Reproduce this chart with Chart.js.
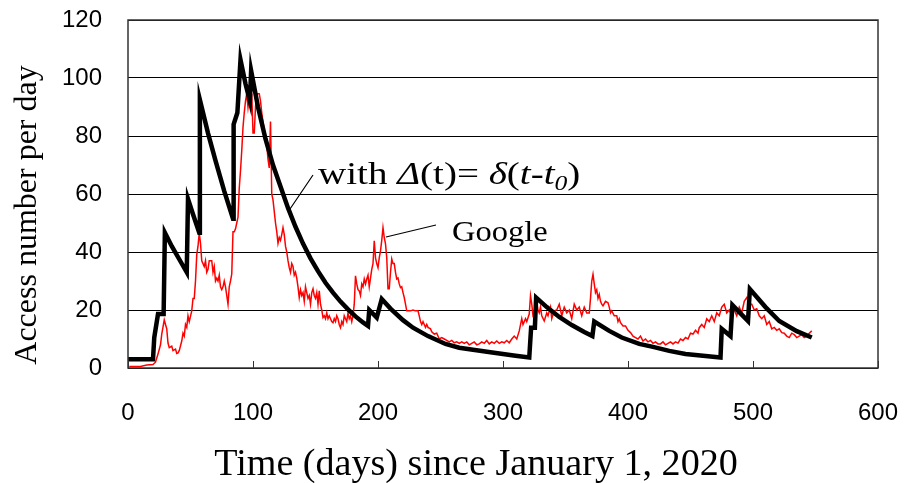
<!DOCTYPE html>
<html lang="en">
<head>
    <meta charset="UTF-8">
    <title>Access number per day</title>
    <script src="https://cdn.jsdelivr.net/npm/chart.js"></script>
    <style>
        html, body { margin: 0; padding: 0; background: #fff; }
        #wrap { width: 904px; height: 483px; }
    </style>
</head>
<body>
    <div id="wrap">
        <canvas id="accessChart" width="904" height="483"></canvas>
    </div>

    <script>
        // --- data ---

        // x ticks / y ticks
        const xTicks = [0, 100, 200, 300, 400, 500, 600];
        const yTicks = [0, 20, 40, 60, 80, 100, 120];

        // model curve: with Delta(t) = delta(t - t0)
        const modelDay = [0, 20, 21, 24, 28.5, 29.5, 35, 41, 47, 48, 52, 57, 57.5, 64, 70, 77, 84, 84.5, 87.5, 90,
            94, 97.5, 98.5, 104, 110, 116, 122, 128, 134, 140, 146, 152, 158, 164, 170, 176, 182, 188, 192,
            193, 199, 203, 210, 220, 228, 240, 254, 265, 276, 290, 300, 310, 321, 322.5, 325.5, 326.5, 335,
            345, 355, 365, 371.5, 373, 385, 395, 409, 420, 433, 446, 460, 474, 475, 482, 483.5, 496, 497.5,
            510, 521, 535, 547];
        const modelCount = [3, 3, 10.5, 18.6, 18.6, 46.7, 42, 37.5, 33, 58.3, 53, 46.6, 92.5, 81, 71.5, 61, 51.5, 84, 88, 106.3,
            98, 92, 102.5, 90, 79, 70, 62.6, 55.2, 48.7, 42.9, 37.8, 33.4, 29.4, 26, 22.9, 20.2, 17.8, 15.7, 14.5,
            20, 17.4, 23.8, 20.5, 16.5, 13.9, 11, 8.3, 7, 6.3, 5.4, 4.8, 4.2, 3.6, 13.9, 13.9, 24.3, 21,
            17.6, 14.8, 12.4, 11, 16, 12.8, 10.5, 8.3, 7.3, 5.9, 4.8, 4.2, 3.6, 13.5, 11, 21.7, 16.2, 27.2,
            21, 16.2, 12.7, 10.5];

        // Google access counts
        const googleDay = [1, 5, 10, 15, 20, 22, 24, 26, 27, 29, 30, 31, 32, 33, 35, 36, 38, 39, 40, 41, 43, 44, 45, 46, 47, 48, 49,
            51, 52, 53, 54, 55, 56, 57, 58, 59, 60, 61, 62, 63, 64, 65, 66, 67, 68, 69, 70, 71, 72, 73, 74, 75, 76, 77, 78, 79,
            80, 81, 82, 83, 84, 85, 86, 87, 88, 89, 90, 91, 92, 93, 94, 95, 96, 97, 98, 99, 100, 101, 102, 103, 104, 105, 106,
            107, 108, 109, 110, 111, 112, 113, 114, 115, 116, 117, 118, 119, 120, 121, 122, 123, 124, 125, 126, 127, 128, 129,
            130, 131, 132, 133, 134, 135, 136, 137, 138, 139, 140, 141, 142, 143, 144, 145, 146, 147, 148, 149, 150, 151, 152,
            153, 154, 155, 156, 157, 158, 159, 160, 161, 162, 163, 164, 165, 166, 167, 168, 169, 170, 171, 172, 173, 174, 175,
            176, 177, 178, 179, 180, 181, 182, 183, 184, 185, 186, 187, 188, 189, 190, 191, 192, 193, 194, 195, 196, 197, 198,
            199, 200, 201, 202, 203, 204, 205, 206, 207, 208, 209, 210, 211, 212, 213, 214, 215, 216, 217, 218, 219, 220, 221,
            222, 223, 224, 226, 228, 230, 232, 233, 234, 235, 236, 237, 238, 239, 240, 242, 243, 245, 247, 249, 251, 253, 255,
            257, 259, 261, 263, 265, 267, 269, 271, 273, 275, 277, 279, 281, 283, 285, 287, 289, 291, 293, 295, 297, 299, 301,
            303, 305, 307, 309, 311, 313, 315, 316, 318, 319, 321, 322, 323, 324, 325, 326, 327, 328, 329, 330, 331, 333, 335,
            336, 338, 339, 341, 343, 345, 347, 349, 351, 353, 355, 357, 359, 361, 363, 365, 367, 369, 370, 371, 372, 373, 374,
            375, 376, 377, 378, 379, 380, 382, 384, 385, 386, 387, 389, 391, 392, 393, 394, 396, 398, 400, 402, 404, 406, 408,
            410, 412, 414, 416, 418, 420, 422, 424, 426, 428, 430, 432, 434, 436, 438, 440, 442, 444, 446, 448, 450, 452, 454,
            456, 457, 459, 461, 463, 465, 467, 469, 471, 473, 475, 477, 479, 481, 483, 485, 487, 489, 491, 493, 495, 497, 499,
            501, 503, 505, 507, 509, 511, 513, 515, 517, 519, 521, 523, 525, 527, 529, 531, 533, 535, 537, 539, 541, 543, 545,
            547];
        const googleCount = [0.5, 0.5, 0.5, 1, 1.2, 2, 4.8, 8, 11.7, 16.6, 15, 13.5, 8.6, 7, 7.5, 6, 6.5, 5, 5.2, 6, 9.3, 12, 11, 15, 14, 18, 16,
            19.7, 24, 24, 30, 39, 42, 46.6, 43, 37, 36, 35, 37, 33, 34, 37, 37, 37, 33, 35, 30, 31, 30, 32, 28, 27, 28, 30, 28, 25,
            22, 28, 30, 32.4, 47, 47, 48, 50, 52, 62, 68, 75, 83, 88, 92, 94.6, 90, 94, 92, 94.6, 81, 81, 90, 94.6, 94.6, 94.6, 92,
            88, 85, 82, 80, 77, 72, 69, 85, 60, 58, 54, 50, 47, 43, 45, 44, 46, 48.4, 46, 42, 40, 37, 34.6,
            33, 36, 35, 32, 33, 31, 28, 24.3, 27, 25, 26, 23, 28, 26, 24, 25, 22, 26, 27.3, 25, 24, 26, 22,
            26.6, 22, 20, 17.4, 18, 17, 19, 17, 18, 17, 16, 15.6, 17, 16, 18, 17, 15, 13.9, 16, 15, 18, 17, 16,
            19, 17, 18, 16, 18, 22, 31.8, 29, 27, 26.6, 25, 29, 28, 30.7, 29, 30.7, 32, 28, 31, 34, 36, 43.9, 38,
            36, 34.6, 38, 40.4, 44, 48.4, 45, 42.8, 38, 27.3, 27.3, 33, 37.6, 36, 36, 33, 30.7, 31, 29, 27.7, 28, 26, 24.3,
            22, 19.7, 19.7, 19.7, 20, 19.7, 19.7, 18, 16, 15, 16, 15, 14, 15, 14, 13.5, 12.5, 11.7, 12, 10, 10.5, 10, 9.5,
            9, 9.5, 8.7, 9, 8.5, 9, 8.5, 9, 8, 8.5, 9, 8, 8.3, 9, 8.5, 9.5, 8.3, 9, 8.5, 9.3, 8.5, 9, 8.7,
            9.5, 8.7, 10, 11, 10, 12.8, 17, 15, 17, 16, 18.6, 24.9, 22, 18, 18.6, 21, 23, 20, 19, 21, 18, 16.2, 19,
            18, 21, 17, 19.7, 20, 22, 18, 21, 19, 20, 17, 22, 20, 21, 18, 21, 19, 19, 24, 30, 32.3, 29, 26,
            27, 24, 25.4, 23, 22, 21.4, 23, 22.5, 21, 19, 19.7, 18, 18, 16, 17, 15.6, 14.5, 14.5, 13, 12.2, 11, 10.5, 10,
            11, 9.3, 10, 9, 9.5, 8.5, 9, 8.3, 8.3, 9, 8, 8.5, 9, 8.3, 9, 8.6, 10, 9.5, 10.5, 10, 12, 11.7, 13,
            12, 13.9, 15, 14, 17, 16, 18, 16, 19, 18, 21, 22, 19, 20, 18, 20, 18, 21, 19, 23, 24.3, 22, 22,
            20, 20.4, 18, 17, 18, 15, 16, 13.5, 14, 13, 13.5, 12.2, 12, 11, 10.5, 12, 11.5, 10.5, 11, 11.5, 10.5, 11, 12,
            12.8];

        const toPoints = (xs, ys) => xs.map((x, i) => ({ x: x, y: ys[i] }));

        // scales keep their own label overflow out of the layout
        const noScalePadding = s => {
            s.paddingLeft = 0;
            s.paddingRight = 0;
            s.paddingTop = 0;
            s.paddingBottom = 0;
        };

        // --- extra drawing: frame, inner x ticks, axis titles, annotations ---
        const decorPlugin = {
            id: 'decor',
            afterDraw(chart) {
                const ctx = chart.ctx;
                const a = chart.chartArea;
                const xs = chart.scales.x;
                ctx.save();

                // frame around the plot
                ctx.strokeStyle = '#333';
                ctx.lineWidth = 1.5;
                ctx.strokeRect(a.left, a.top, a.right - a.left, a.bottom - a.top);

                // tick marks pointing into the plot
                ctx.lineWidth = 1;
                xTicks.forEach(v => {
                    const px = Math.round(xs.getPixelForValue(v)) + 0.5;
                    ctx.beginPath();
                    ctx.moveTo(px, a.bottom);
                    ctx.lineTo(px, a.bottom - 7);
                    ctx.stroke();
                });

                ctx.fillStyle = '#000';

                // x axis title
                ctx.font = '37px "Liberation Serif", serif';
                ctx.textAlign = 'center';
                ctx.textBaseline = 'alphabetic';
                ctx.save();
                ctx.translate(476, 475);
                ctx.scale(1.03, 1);
                ctx.fillText('Time (days) since January 1, 2020', 0, 0);
                ctx.restore();

                // y axis title
                ctx.save();
                ctx.translate(28, 215);
                ctx.rotate(-Math.PI / 2);
                ctx.font = '32px "Liberation Serif", serif';
                ctx.textBaseline = 'middle';
                ctx.fillText('Access number per day', 0, 0);
                ctx.restore();

                // pointer lines
                ctx.strokeStyle = '#000';
                ctx.lineWidth = 1.2;
                ctx.beginPath();
                ctx.moveTo(290, 209);
                ctx.lineTo(313, 175);
                ctx.moveTo(386, 237);
                ctx.lineTo(436, 225);
                ctx.stroke();

                // "with Δ(t)= δ(t-t0)", a little wider than tall like the source
                ctx.textAlign = 'left';
                ctx.textBaseline = 'alphabetic';
                const parts = [
                    ['with ', 'normal', 32, 0],
                    ['Δ', 'italic', 32, 0],
                    ['(t)= ', 'normal', 32, 0],
                    ['δ', 'italic', 32, 0],
                    ['(', 'normal', 32, 0],
                    ['t-t', 'italic', 32, 0],
                    ['0', 'italic', 21, 6],
                    [')', 'normal', 32, 0]
                ];
                ctx.save();
                ctx.translate(318, 184);
                ctx.scale(1.22, 1);
                let tx = 0;
                parts.forEach(([s, style, size, dy]) => {
                    ctx.font = style + ' ' + size + 'px "Liberation Serif", serif';
                    ctx.fillText(s, tx, dy);
                    tx += ctx.measureText(s).width;
                });
                ctx.restore();

                // "Google"
                ctx.save();
                ctx.translate(452, 241);
                ctx.scale(1.12, 1);
                ctx.font = '29px "Liberation Serif", serif';
                ctx.fillText('Google', 0, 0);
                ctx.restore();

                ctx.restore();
            }
        };

        const ctx = document.getElementById('accessChart').getContext('2d');
        new Chart(ctx, {
            type: 'line',
            data: {
                datasets: [
                    {
                        label: 'with Δ(t)= δ(t-t0)',
                        data: toPoints(modelDay, modelCount),
                        borderColor: '#000',
                        borderWidth: 4.5,
                        pointRadius: 0,
                        tension: 0
                    },
                    {
                        label: 'Google',
                        data: toPoints(googleDay, googleCount),
                        borderColor: '#ff0000',
                        borderWidth: 1.5,
                        pointRadius: 0,
                        tension: 0
                    }
                ]
            },
            plugins: [decorPlugin],
            options: {
                responsive: false,
                animation: false,
                layout: { padding: { top: 20, right: 26, left: 0, bottom: 0 } },
                plugins: {
                    legend: { display: false },
                    tooltip: { enabled: false }
                },
                scales: {
                    x: {
                        type: 'linear',
                        min: 0,
                        max: 600,
                        afterBuildTicks: s => { s.ticks = xTicks.map(v => ({ value: v })); },
                        afterFit: s => { s.height = 115; noScalePadding(s); },
                        grid: { display: false, drawTicks: false },
                        border: { display: false },
                        ticks: {
                            padding: 31,
                            maxRotation: 0,
                            color: '#000',
                            font: { family: '"Liberation Sans", Arial, sans-serif', size: 24 }
                        }
                    },
                    y: {
                        min: 0,
                        max: 120,
                        afterBuildTicks: s => { s.ticks = yTicks.map(v => ({ value: v })); },
                        afterFit: s => { s.width = 128; noScalePadding(s); },
                        grid: { color: '#000', lineWidth: 1, drawTicks: false },
                        border: { display: false },
                        ticks: {
                            padding: 26,
                            color: '#000',
                            font: { family: '"Liberation Sans", Arial, sans-serif', size: 24 }
                        }
                    }
                }
            }
        });
    </script>
</body>
</html>
